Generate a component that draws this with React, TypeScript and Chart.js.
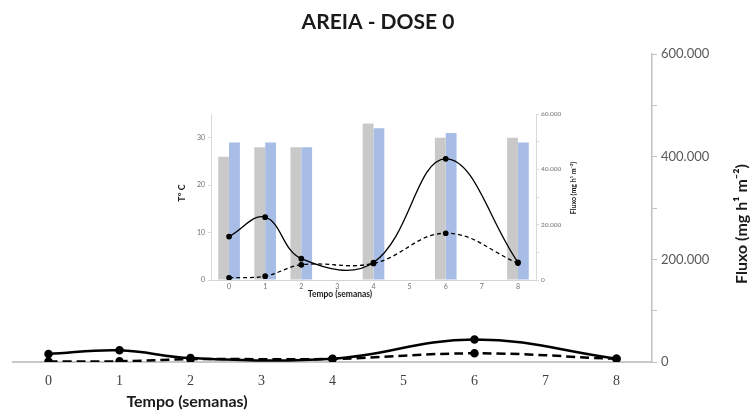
import React, { useEffect, useRef } from 'react';
import { Chart, registerables } from 'chart.js';

Chart.register(...registerables);

// ---- data ----
const weeks = ['0', '1', '2', '3', '4', '5', '6', '7', '8'];
const fluxSolid = [15700, 22700, 7700, null, 6300, null, 43800, null, 6400];
const fluxDashed = [800, 1400, 5500, null, 6000, null, 16900, null, 6100];
const tempGrey = [26, 28, 28, null, 33, null, 30, null, 30];
const tempBlue = [29, 29, 28, null, 32, null, 31, null, 29];

const mainTitle = 'AREIA - DOSE 0';
const xTitle = 'Tempo (semanas)';
const fluxTitle = 'Fluxo (mg h\u00B9 m\u207B\u00B2)';
const tempTitle = 'T\u00B0 C';

const fmt = (v: number) => (v === 0 ? '0' : String(v).replace(/\B(?=(\d{3})+(?!\d))/g, '.'));

type TextItem = { text: string; x: number; y: number; rot?: number; font: string; color: string };

const makeTextPlugin = (id: string, items: TextItem[]) => ({
  id,
  afterDraw(chart: any) {
    const ctx = chart.ctx;
    for (const t of items) {
      ctx.save();
      ctx.translate(t.x, t.y);
      if (t.rot) ctx.rotate(t.rot);
      ctx.font = t.font;
      ctx.fillStyle = t.color;
      ctx.textAlign = 'center';
      ctx.textBaseline = 'middle';
      ctx.fillText(t.text, 0, 0);
      ctx.restore();
    }
  },
});

export default function App() {
  const mainRef = useRef<HTMLCanvasElement | null>(null);
  const insetRef = useRef<HTMLCanvasElement | null>(null);

  useEffect(() => {
    const main = new Chart(mainRef.current as HTMLCanvasElement, {
      type: 'line',
      data: {
        labels: weeks,
        datasets: [
          {
            data: fluxSolid,
            borderColor: '#000',
            backgroundColor: '#000',
            borderWidth: 2.5,
            pointRadius: 3,
            pointBackgroundColor: '#000',
            pointBorderColor: '#000',
            tension: 0.4,
            spanGaps: true,
          },
          {
            data: fluxDashed,
            borderColor: '#000',
            backgroundColor: '#000',
            borderWidth: 2.5,
            borderDash: [9, 5],
            pointRadius: 3,
            pointBackgroundColor: '#000',
            pointBorderColor: '#000',
            tension: 0.4,
            spanGaps: true,
          },
        ],
      },
      options: {
        responsive: false,
        animation: false,
        devicePixelRatio: 1,
        layout: { padding: { left: 13, top: 54, right: 0, bottom: 0 } },
        plugins: { legend: { display: false }, tooltip: { enabled: false } },
        scales: {
          x: {
            type: 'category',
            offset: true,
            grid: { display: false, drawTicks: false },
            border: { display: true, color: '#c8c8c8', width: 2 },
            ticks: { font: { family: 'Liberation Serif', size: 14 }, color: '#404040', padding: 11 },
            afterFit: (s: any) => {
              s.height = 54;
            },
          },
          y: {
            position: 'right',
            min: 0,
            max: 600000,
            ticks: {
              stepSize: 100000,
              callback: (v: any) => (Number(v) % 200000 === 0 ? fmt(Number(v)) : ''),
              font: { family: 'Lato', size: 13 },
              color: '#595959',
              padding: 4,
            },
            grid: { display: true, drawOnChartArea: false, tickLength: 5, color: '#c0c0c0' },
            border: { display: true, color: '#c0c0c0', width: 1.5 },
            afterFit: (s: any) => {
              s.width = 101;
            },
          },
        },
      },
      plugins: [
        makeTextPlugin('mainTexts', [
          { text: mainTitle, x: 378, y: 22, font: 'bold 21px Lato', color: '#1a1a1a' },
          { text: xTitle, x: 187, y: 402, font: 'bold 16px Lato', color: '#1a1a1a' },
          { text: fluxTitle, x: 742, y: 224, rot: -Math.PI / 2, font: 'bold 16px Lato', color: '#1a1a1a' },
        ]),
      ],
    } as any);

    const inset = new Chart(insetRef.current as HTMLCanvasElement, {
      type: 'bar',
      data: {
        labels: weeks,
        datasets: [
          {
            type: 'line',
            data: fluxSolid,
            yAxisID: 'y1',
            borderColor: '#000',
            backgroundColor: '#000',
            borderWidth: 1.3,
            pointRadius: 2.2,
            pointBackgroundColor: '#000',
            tension: 0.4,
            spanGaps: true,
            order: 0,
          },
          {
            type: 'line',
            data: fluxDashed,
            yAxisID: 'y1',
            borderColor: '#000',
            backgroundColor: '#000',
            borderWidth: 1.3,
            borderDash: [4, 3],
            pointRadius: 2.2,
            pointBackgroundColor: '#000',
            tension: 0.4,
            spanGaps: true,
            order: 0,
          },
          {
            type: 'bar',
            data: tempGrey,
            yAxisID: 'y',
            backgroundColor: '#c9c9c9',
            categoryPercentage: 0.6,
            barPercentage: 1,
            order: 1,
          },
          {
            type: 'bar',
            data: tempBlue,
            yAxisID: 'y',
            backgroundColor: '#a7bde5',
            categoryPercentage: 0.6,
            barPercentage: 1,
            order: 1,
          },
        ],
      },
      options: {
        responsive: false,
        animation: false,
        devicePixelRatio: 1,
        layout: { padding: { left: 0, top: 14, right: 0, bottom: 0 } },
        plugins: { legend: { display: false }, tooltip: { enabled: false } },
        scales: {
          x: {
            type: 'category',
            offset: true,
            grid: { display: false, drawTicks: false },
            border: { display: true, color: '#d4d4d4', width: 1 },
            ticks: { font: { family: 'Lato', size: 7 }, color: '#707070', padding: 3 },
            afterFit: (s: any) => {
              s.height = 30;
            },
          },
          y: {
            position: 'left',
            min: 0,
            max: 35,
            ticks: {
              stepSize: 10,
              includeBounds: false,
              font: { family: 'Lato', size: 7 },
              color: '#707070',
              padding: 3,
            },
            grid: { display: true, drawOnChartArea: false, tickLength: 3, color: '#d9d9d9' },
            border: { display: true, color: '#d9d9d9' },
            afterFit: (s: any) => {
              s.width = 41;
            },
          },
          y1: {
            position: 'right',
            min: 0,
            max: 60000,
            ticks: {
              stepSize: 10000,
              callback: (v: any) => (Number(v) % 20000 === 0 ? fmt(Number(v)) : ''),
              font: { family: 'Lato', size: 6.5 },
              color: '#707070',
              padding: 2,
            },
            grid: { display: true, drawOnChartArea: false, tickLength: 3, color: '#d9d9d9' },
            border: { display: true, color: '#d9d9d9' },
            afterFit: (s: any) => {
              s.width = 44;
            },
          },
        },
      },
      plugins: [
        makeTextPlugin('insetTexts', [
          { text: tempTitle, x: 12, y: 93, rot: -Math.PI / 2, font: 'bold 9px Lato', color: '#1a1a1a' },
          { text: xTitle, x: 170, y: 194, font: 'bold 8.5px Lato', color: '#1a1a1a' },
          { text: fluxTitle, x: 404, y: 88, rot: -Math.PI / 2, font: 'bold 7px Lato', color: '#1a1a1a' },
        ]),
      ],
    } as any);

    return () => {
      main.destroy();
      inset.destroy();
    };
  }, []);

  return (
    <div style={{ position: 'absolute', left: 0, top: 0, width: 753, height: 416, background: '#fff' }}>
      <canvas ref={mainRef} width={753} height={416} style={{ position: 'absolute', left: 0, top: 0 }} />
      <canvas ref={insetRef} width={410} height={210} style={{ position: 'absolute', left: 170, top: 100 }} />
    </div>
  );
}
